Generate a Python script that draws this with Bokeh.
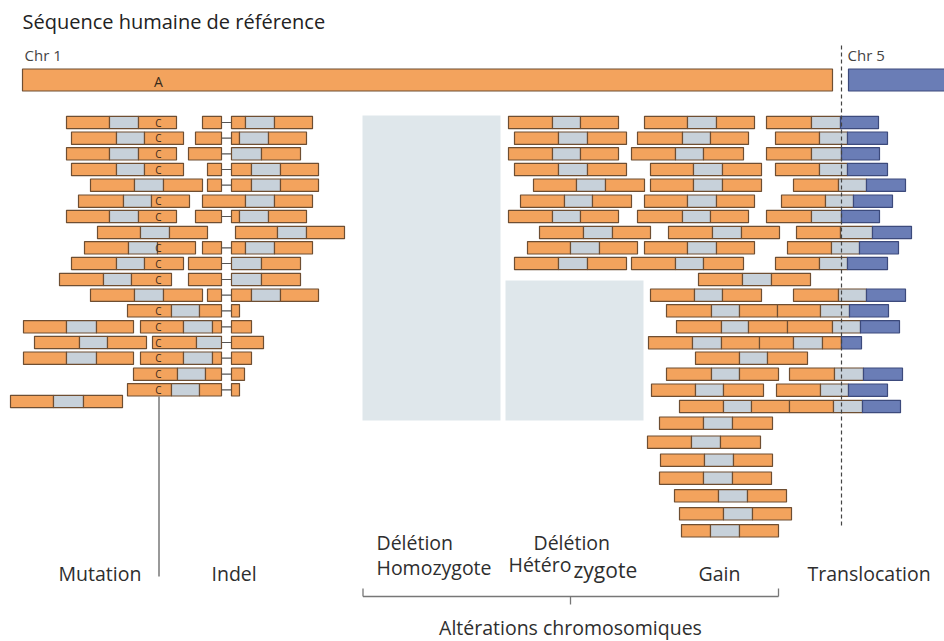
from bokeh.plotting import figure
from bokeh.models import Range1d, ColumnDataSource
from bokeh.core.properties import value
from bokeh.embed import file_html
from bokeh.resources import INLINE

# ---------------- data ----------------
TITLE = "Séquence humaine de référence"
CHR_LABELS = ["Chr 1", "Chr 5"]
REF_BASE = "A"
ALT_BASE = "C"
ALT_X = 158

# reads: (row y, segment kinds, segment boundaries)
# o = orange (chr 1), g = grey (insert), b = blue (chr 5), - = deletion link
MUTATION_READS = [
    (122.0, "ogo", [66, 109, 138, 176]),
    (137.7, "ogo", [71, 116, 144, 183]),
    (153.3, "ogo", [66, 109, 138, 176]),
    (169.0, "ogo", [71, 116, 144, 183]),
    (184.7, "ogo", [90, 134, 163, 202]),
    (200.7, "ogo", [78, 123, 151, 189]),
    (216.0, "ogo", [66, 109, 138, 176]),
    (232.0, "ogo", [97, 140, 169, 207]),
    (247.3, "ogo", [84, 128, 157, 195]),
    (263.0, "ogo", [71, 116, 144, 183]),
    (279.0, "ogo", [59, 103, 131, 171]),
    (294.7, "ogo", [90, 134, 163, 202]),
    (326.3, "ogo", [23, 66, 96, 133]),
    (342.0, "ogo", [34, 79, 107, 146]),
    (357.7, "ogo", [23, 66, 96, 133]),
    (401.0, "ogo", [10, 53, 83, 122]),
]
INDEL_READS = [
    (122.0, "o-ogo", [202, 221, 231, 245, 274, 312]),
    (137.7, "o-ogo", [195, 221, 231, 239, 268, 306]),
    (153.3, "o-go", [188, 221, 231, 261, 300]),
    (169.0, "o-ogo", [207, 221, 231, 251, 280, 318]),
    (184.7, "o-ogo", [207, 221, 231, 251, 280, 318]),
    (200.7, "ogo", [202, 245, 274, 312]),
    (216.0, "o-ogo", [195, 221, 231, 239, 268, 306]),
    (232.0, "ogo", [235, 277, 306, 344]),
    (247.3, "o-ogo", [202, 221, 231, 245, 274, 312]),
    (263.0, "o-go", [188, 221, 231, 261, 300]),
    (279.0, "o-go", [188, 221, 231, 261, 300]),
    (294.7, "o-ogo", [207, 221, 231, 251, 280, 318]),
    (310.3, "ogo-o", [127, 171, 199, 221, 231, 239]),
    (326.3, "ogo-o", [140, 183, 212, 221, 231, 251]),
    (342.0, "og-o", [152, 196, 221, 231, 263]),
    (357.7, "ogo-o", [140, 183, 212, 221, 231, 251]),
    (373.7, "ogo-o", [133, 177, 205, 221, 231, 244]),
    (389.3, "ogo-o", [127, 171, 199, 221, 231, 239]),
]
HETERO_READS = [
    (122.0, "ogo", [508, 552, 580, 618]),
    (137.7, "ogo", [514, 558, 587, 626]),
    (153.3, "ogo", [508, 552, 580, 618]),
    (169.0, "ogo", [514, 558, 587, 626]),
    (184.7, "ogo", [533, 576, 605, 644]),
    (200.7, "ogo", [520, 564, 592, 631]),
    (216.0, "ogo", [508, 552, 580, 618]),
    (232.0, "ogo", [539, 583, 612, 650]),
    (247.3, "ogo", [527, 570, 599, 637]),
    (263.0, "ogo", [514, 558, 587, 626]),
]
GAIN_READS = [
    (122.0, "ogo", [644, 687, 716, 754]),
    (137.7, "ogo", [637, 682, 710, 748]),
    (153.3, "ogo", [631, 675, 703, 743]),
    (169.0, "ogo", [650, 693, 722, 761]),
    (184.7, "ogo", [650, 693, 722, 761]),
    (200.7, "ogo", [644, 687, 716, 754]),
    (216.0, "ogo", [637, 682, 710, 748]),
    (232.0, "ogo", [668, 712, 741, 779]),
    (247.3, "ogo", [644, 687, 716, 754]),
    (263.0, "ogo", [631, 675, 703, 743]),
    (279.0, "ogo", [698, 742, 771, 810]),
    (294.7, "ogo", [650, 694, 722, 761]),
    (310.3, "ogo", [666, 711, 739, 777]),
    (326.3, "ogo", [676, 721, 748, 787]),
    (342.3, "ogo", [648, 692, 721, 759]),
    (357.7, "ogo", [695, 739, 767, 807]),
    (373.7, "ogo", [666, 711, 739, 778]),
    (389.7, "ogo", [651, 695, 723, 763]),
    (406.0, "ogo", [679, 723, 751, 789]),
    (422.7, "ogo", [659, 703, 732, 772]),
    (441.7, "ogo", [647, 691, 720, 760]),
    (459.7, "ogo", [660, 704, 733, 772]),
    (477.7, "ogo", [659, 703, 732, 771]),
    (495.3, "ogo", [674, 718, 747, 786]),
    (513.3, "ogo", [679, 723, 752, 791]),
    (530.3, "ogo", [681, 710, 739, 778]),
]
TRANSLOC_READS = [
    (122.0, "ogb", [766, 811, 840, 878]),
    (137.7, "ogb", [775, 819, 847, 887]),
    (153.3, "ogb", [766, 811, 841, 879]),
    (169.0, "ogb", [775, 819, 847, 887]),
    (184.7, "ogb", [793, 838, 866, 905]),
    (200.7, "ogb", [781, 825, 853, 892]),
    (216.0, "ogb", [766, 811, 841, 879]),
    (232.0, "ogb", [796, 840, 872, 911]),
    (247.3, "ogb", [787, 831, 859, 898]),
    (263.0, "ogb", [775, 819, 847, 887]),
    (294.7, "ogb", [793, 838, 866, 905]),
    (310.3, "ogb", [777, 820, 849, 888]),
    (326.3, "ogb", [787, 832, 860, 899]),
    (342.3, "ogob", [759, 793, 822, 841, 861]),
    (373.7, "ogb", [789, 834, 863, 902]),
    (389.7, "ogb", [776, 820, 848, 887]),
    (406.0, "ogb", [789, 833, 862, 900]),
]
CATEGORY_LABELS = ["Mutation", "Indel", "Délétion", "Homozygote", "Délétion",
                   "Gain", "Translocation"]
HETERO_PARTS = ["Hétéro", "zygote"]
GROUP_LABEL = "Altérations chromosomiques"

# ---------------- styles ----------------
ORANGE = "#f3a35d"
GREY = "#c7d1da"
BLUE = "#6a7db6"
EDGE = "#6e4e32"
BLUE_EDGE = "#3c4a7c"
BOX = "#dfe7eb"
TXT = "#2e2e2e"
FONT = value("Open Sans")
H = 6.2  # half read height

p = figure(width=944, height=641, x_range=Range1d(0, 944), y_range=Range1d(641, 0),
           output_backend="svg", toolbar_location=None, min_border=0,
           min_border_left=0, min_border_right=0, min_border_top=0, min_border_bottom=0)
p.axis.visible = False
p.grid.visible = False
p.outline_line_color = None
p.background_fill_color = "white"

# deletion boxes (empty coverage regions)
p.quad(left=[362, 505], right=[500, 643], top=[115, 280], bottom=[420, 420],
       fill_color=BOX, line_color=None)

# reference chromosomes
p.quad(left=[22], right=[832], top=[68.5], bottom=[90.5], fill_color=ORANGE,
       line_color=EDGE, line_width=1.2)
p.quad(left=[848], right=[960], top=[68.5], bottom=[90.5], fill_color=BLUE,
       line_color=BLUE_EDGE, line_width=1.2)

seg = dict(left=[], right=[], top=[], bottom=[], fill=[], line=[])
links = dict(x0=[], x1=[], y=[])
cx, cy = [], []
colors = {"o": (ORANGE, EDGE), "g": (GREY, EDGE), "b": (BLUE, BLUE_EDGE)}


def add_reads(reads, mark_alt=False):
    for y, kinds, xs in reads:
        for i, k in enumerate(kinds):
            x0, x1 = xs[i], xs[i + 1]
            if k == "-":
                links["x0"].append(x0); links["x1"].append(x1); links["y"].append(y)
                continue
            f, l = colors[k]
            seg["left"].append(x0); seg["right"].append(x1)
            seg["top"].append(y - H); seg["bottom"].append(y + H)
            seg["fill"].append(f); seg["line"].append(l)
            if mark_alt and k == "o" and x0 <= ALT_X <= x1:
                cx.append(ALT_X); cy.append(y)


add_reads(MUTATION_READS, True)
add_reads(INDEL_READS, True)
add_reads(HETERO_READS)
add_reads(GAIN_READS)
add_reads(TRANSLOC_READS)

p.segment(x0="x0", x1="x1", y0="y", y1="y", source=ColumnDataSource(links),
          line_color="#555555", line_width=1.2)
p.quad(left="left", right="right", top="top", bottom="bottom", fill_color="fill",
       line_color="line", line_width=1.2, source=ColumnDataSource(seg))

p.text(x=cx, y=cy, text=[ALT_BASE] * len(cx), text_font=FONT, text_font_size="10px",
       text_color="#3a2a1a", text_align="center", text_baseline="middle")

# mutation pointer line
p.segment(x0=[158.5], x1=[158.5], y0=[396], y1=[576], line_color="#555555", line_width=1.2)

# breakpoint dashed line
p.segment(x0=[841], x1=[841], y0=[45], y1=[528], line_color="#444444",
          line_width=1.2, line_dash="4 3")

# titles
p.text(x=[22], y=[21], text=[TITLE], text_font=FONT, text_font_size="20px",
       text_color="#222222", text_align="left", text_baseline="middle")
p.text(x=[24, 847], y=[54, 54], text=CHR_LABELS, text_font=FONT, text_font_size="15px",
       text_color="#444444", text_align="left", text_baseline="middle")
p.text(x=[158], y=[80.5], text=[REF_BASE], text_font=FONT, text_font_size="14px",
       text_color="#3a2a1a", text_align="center", text_baseline="middle")

# category labels
lx = [58, 211, 376, 376, 533, 698, 807]
ly = [573, 573, 542, 567, 542, 573, 573]
p.text(x=lx, y=ly, text=CATEGORY_LABELS, text_font=FONT, text_font_size="19.5px",
       text_color=TXT, text_align="left", text_baseline="middle")
p.text(x=[508], y=[564], text=HETERO_PARTS[:1], text_font=FONT, text_font_size="19.5px",
       text_color=TXT, text_align="left", text_baseline="middle")
p.text(x=[573], y=[569], text=HETERO_PARTS[1:], text_font=FONT, text_font_size="21px",
       text_color=TXT, text_align="left", text_baseline="middle")

# bracket
p.segment(x0=[362.5, 362.5, 778, 570], x1=[778, 362.5, 778, 570],
          y0=[596, 588, 588, 596], y1=[596, 596, 596, 604],
          line_color="#777777", line_width=1.3)
p.text(x=[570], y=[627], text=[GROUP_LABEL], text_font=FONT, text_font_size="19.5px",
       text_color=TXT, text_align="center", text_baseline="middle")

open("out.html", "w").write(file_html(p, INLINE))
